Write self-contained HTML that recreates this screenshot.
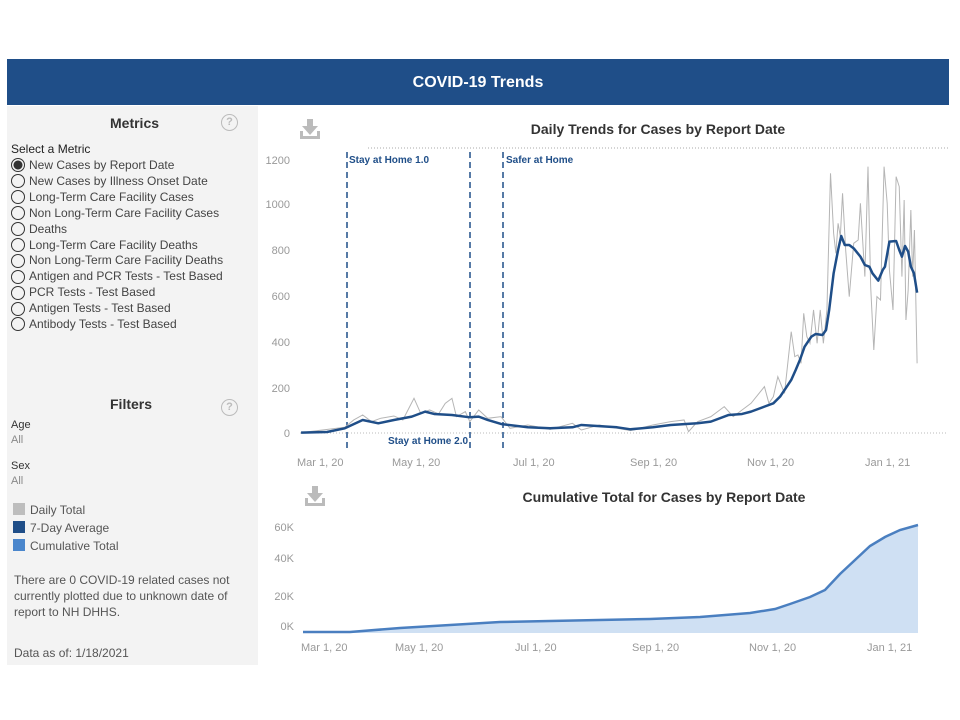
<!DOCTYPE html>
<html><head><meta charset="utf-8"><style>
body{margin:0;width:960px;height:720px;background:#fff;font-family:"Liberation Sans",sans-serif;position:relative;overflow:hidden}
.a{position:absolute}
.hdr{left:7px;top:59px;width:942px;height:46px;background:#1f4e88;color:#fff;font-weight:bold;font-size:16px;text-align:center;line-height:48px}
.pan{left:7px;top:106px;width:251px;height:559px;background:#f3f3f3}
.t{font-size:12px;color:#444;white-space:nowrap}
.r{position:absolute;left:11px;width:14px;height:14px;border:1px solid #333;border-radius:50%;box-sizing:border-box}
.q{width:15px;height:15px;border:1.5px solid #bbb;border-radius:50%;color:#bbb;font-size:11px;font-weight:bold;text-align:center;line-height:15px}
.lg{width:12px;height:12px;left:13px}
</style></head><body>
<div class="a hdr">COVID-19 Trends</div>
<div class="a pan"></div>
<div class="a" style="left:110px;top:115px;font-size:14px;font-weight:bold;color:#333">Metrics</div>
<div class="a q" style="left:221px;top:114px">?</div>
<div class="a t" style="left:11px;top:142px;color:#222">Select a Metric</div>
<div class="r" style="top:158px;background:radial-gradient(circle,#333 50%,transparent 55%)"></div>
<div class="r" style="top:174px"></div><div class="r" style="top:190px"></div><div class="r" style="top:206px"></div><div class="r" style="top:222px"></div><div class="r" style="top:238px"></div><div class="r" style="top:254px"></div><div class="r" style="top:270px"></div><div class="r" style="top:286px"></div><div class="r" style="top:302px"></div><div class="r" style="top:317px"></div>
<div class="a t" style="left:29px;top:158px;line-height:15.9px">New Cases by Report Date<br>New Cases by Illness Onset Date<br>Long-Term Care Facility Cases<br>Non Long-Term Care Facility Cases<br>Deaths<br>Long-Term Care Facility Deaths<br>Non Long-Term Care Facility Deaths<br>Antigen and PCR Tests - Test Based<br>PCR Tests - Test Based<br>Antigen Tests - Test Based<br>Antibody Tests - Test Based</div>
<div class="a" style="left:110px;top:396px;font-size:14px;font-weight:bold;color:#333">Filters</div>
<div class="a q" style="left:221px;top:399px">?</div>
<div class="a t" style="left:11px;top:419px;font-size:11px;color:#333">Age</div>
<div class="a t" style="left:11px;top:434px;font-size:11px;color:#888">All</div>
<div class="a t" style="left:11px;top:460px;font-size:11px;color:#333">Sex</div>
<div class="a t" style="left:11px;top:475px;font-size:11px;color:#888">All</div>
<div class="a lg" style="top:503px;background:#bdbdbd"></div>
<div class="a lg" style="top:521px;background:#1f4e88"></div>
<div class="a lg" style="top:539px;background:#4a86cc"></div>
<div class="a t" style="left:30px;top:501px;line-height:18px;color:#555">Daily Total<br>7-Day Average<br>Cumulative Total</div>
<div class="a t" style="left:14px;top:572px;line-height:16px;color:#555;white-space:normal;width:235px">There are 0 COVID-19 related cases not currently plotted due to unknown date of report to NH DHHS.</div>
<div class="a t" style="left:14px;top:646px;color:#555">Data as of: 1/18/2021</div>

<svg class="a" style="left:0;top:0" width="960" height="720">
<g fill="#bbb"><rect x="307" y="119" width="6" height="8"/><polygon points="302,126 318,126 310,135"/><rect x="300" y="136" width="20" height="3"/><rect x="300" y="131" width="3" height="7"/><rect x="317" y="131" width="3" height="7"/>
<rect x="312" y="486" width="6" height="8"/><polygon points="307,493 323,493 315,502"/><rect x="305" y="503" width="20" height="3"/><rect x="305" y="498" width="3" height="7"/><rect x="322" y="498" width="3" height="7"/></g>
<g font-family="Liberation Sans" font-weight="bold" font-size="14" fill="#333" text-anchor="middle">
<text x="658" y="134">Daily Trends for Cases by Report Date</text>
<text x="664" y="502">Cumulative Total for Cases by Report Date</text></g>
<line x1="368" y1="148" x2="948" y2="148" stroke="#aaa" stroke-dasharray="1,2"/>
<line x1="300" y1="433" x2="948" y2="433" stroke="#bbb" stroke-dasharray="1,2"/>
<g font-size="11" fill="#999" font-family="Liberation Sans" text-anchor="end">
<text x="290" y="164">1200</text><text x="290" y="208">1000</text><text x="290" y="254">800</text><text x="290" y="300">600</text><text x="290" y="346">400</text><text x="290" y="392">200</text><text x="290" y="437">0</text>
<text x="294" y="531">60K</text><text x="294" y="562">40K</text><text x="294" y="600">20K</text><text x="294" y="630">0K</text></g>
<g font-size="11" fill="#999" font-family="Liberation Sans">
<text x="297" y="466">Mar 1, 20</text><text x="392" y="466">May 1, 20</text><text x="513" y="466">Jul 1, 20</text><text x="630" y="466">Sep 1, 20</text><text x="747" y="466">Nov 1, 20</text><text x="865" y="466">Jan 1, 21</text>
<text x="301" y="651">Mar 1, 20</text><text x="395" y="651">May 1, 20</text><text x="515" y="651">Jul 1, 20</text><text x="632" y="651">Sep 1, 20</text><text x="749" y="651">Nov 1, 20</text><text x="867" y="651">Jan 1, 21</text></g>
<g stroke="#1f4e88" stroke-width="1.5" stroke-dasharray="6,4">
<line x1="347" y1="152" x2="347" y2="448"/><line x1="470" y1="152" x2="470" y2="448"/><line x1="503" y1="152" x2="503" y2="448"/></g>
<g font-size="10" font-weight="bold" fill="#1f4e88" font-family="Liberation Sans">
<text x="349" y="163">Stay at Home 1.0</text><text x="506" y="163">Safer at Home</text><text x="388" y="444">Stay at Home 2.0</text></g>
<g transform="translate(260,110) scale(0.4464,0.3333)" fill="none">
<polyline vector-effect="non-scaling-stroke" stroke="#b5b5b5" stroke-width="1" points="92,968 190,952 210,930 230,915 250,935 270,925 300,918 320,930 345,865 360,910 380,900 400,912 415,880 430,865 440,920 460,905 470,935 490,900 510,925 540,920 560,955 600,945 650,958 700,940 720,960 760,945 800,955 830,962 880,945 920,935 950,930 960,965 980,935 1010,920 1040,890 1060,920 1100,880 1130,830 1140,880 1150,860 1160,800 1175,850 1190,665 1198,740 1205,735 1212,760 1218,610 1225,680 1232,700 1240,600 1248,700 1255,600 1262,700 1270,600 1278,190 1285,370 1290,430 1295,340 1300,380 1305,250 1312,420 1320,560 1330,400 1340,390 1345,280 1355,500 1362,170 1368,530 1375,720 1382,560 1390,570 1398,170 1405,280 1410,480 1418,600 1425,200 1432,230 1438,500 1443,270 1447,630 1452,540 1458,300 1462,500 1466,360 1472,760"/>
<polyline vector-effect="non-scaling-stroke" stroke="#1f4e88" stroke-width="2.5" stroke-linejoin="round" points="92,968 150,966 190,955 230,930 265,940 300,930 340,920 370,905 390,912 430,915 470,922 490,920 510,930 540,942 600,952 650,955 700,952 720,945 800,952 830,958 880,952 920,945 980,940 1010,935 1050,915 1080,912 1100,905 1130,890 1150,880 1165,860 1180,830 1190,810 1200,780 1210,748 1220,710 1235,680 1245,672 1260,675 1268,660 1275,600 1285,490 1295,420 1302,378 1310,405 1320,405 1330,415 1345,440 1355,465 1365,470 1372,490 1385,512 1395,480 1400,470 1410,395 1425,393 1432,420 1438,440 1445,408 1452,425 1458,470 1465,490 1472,548"/>
</g>
<polygon fill="#cfe0f3" points="303,633 303,632 350,632 400,628 450,625 500,622 550,621 650,619 700,617 750,613 775,609 790,604 810,597 825,590 840,574 855,560 870,546 885,537 900,530 918,525 918,633"/>
<polyline fill="none" stroke="#4a7fc0" stroke-width="2.5" points="303,632 350,632 400,628 450,625 500,622 550,621 650,619 700,617 750,613 775,609 790,604 810,597 825,590 840,574 855,560 870,546 885,537 900,530 918,525"/>
</svg>
</body></html>
